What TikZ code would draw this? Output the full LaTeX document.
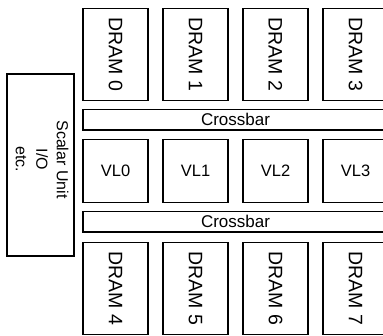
\documentclass[tikz,border=0pt]{standalone}
\usepackage{fontspec}
\setmainfont{Liberation Sans}
\usepackage{graphicx}
\usetikzlibrary{positioning}

\begin{document}
\begin{tikzpicture}[x=1pt,y=1pt,
				every node/.style={inner sep=0pt,outer sep=0pt},
				dram/.style={draw=black,line width=1.5pt,minimum width=65pt,minimum height=92pt,
						font=\fontsize{19.5}{20}\selectfont},
				lane/.style={draw=black,line width=1.5pt,minimum width=65pt,minimum height=63pt,
						font=\fontsize{16.5}{18}\selectfont},
				xbar/.style={draw=black,line width=1.5pt,minimum width=305pt,minimum height=20.5pt,
						font=\fontsize{17}{18}\selectfont},
				scal/.style={draw=black,line width=1.5pt,minimum width=67pt,minimum height=182pt},
				scaltext/.style={rotate=-90,align=center,font=\fontsize{16}{20.5}\selectfont}]

				\clip (0,0) rectangle (383,-335);

				\node[dram] (d0) at (115.5,-54.5) {\rotatebox{-90}{DRAM 0}};
				\node[dram,right=15pt of d0] (d1) {\rotatebox{-90}{DRAM 1}};
				\node[dram,right=15pt of d1] (d2) {\rotatebox{-90}{DRAM 2}};
				\node[dram,right=15pt of d2] (d3) {\rotatebox{-90}{DRAM 3}};

				\node[xbar,below right=9pt and 0pt of d0.south west] (xtop) {Crossbar};

				\node[lane,below right=9.5pt and 0pt of xtop.south west] (v0) {VL0};
				\node[lane,right=15pt of v0] (v1) {VL1};
				\node[lane,right=15pt of v1] (v2) {VL2};
				\node[lane,right=15pt of v2] (v3) {VL3};

				\node[xbar,below right=9pt and 0pt of v0.south west] (xbot) {Crossbar};

				\node[dram,below right=10.5pt and 0pt of xbot.south west] (d4) {\rotatebox{-90}{DRAM 4}};
				\node[dram,right=15pt of d4] (d5) {\rotatebox{-90}{DRAM 5}};
				\node[dram,right=15pt of d5] (d6) {\rotatebox{-90}{DRAM 6}};
				\node[dram,right=15pt of d6] (d7) {\rotatebox{-90}{DRAM 7}};

				\node[scal] (su) at (40.5,-165) {};
				\node[scaltext] (sutext) at (42,-159.5) {Scalar Unit\\I/O\\etc.};
			\end{tikzpicture}
\end{document}
